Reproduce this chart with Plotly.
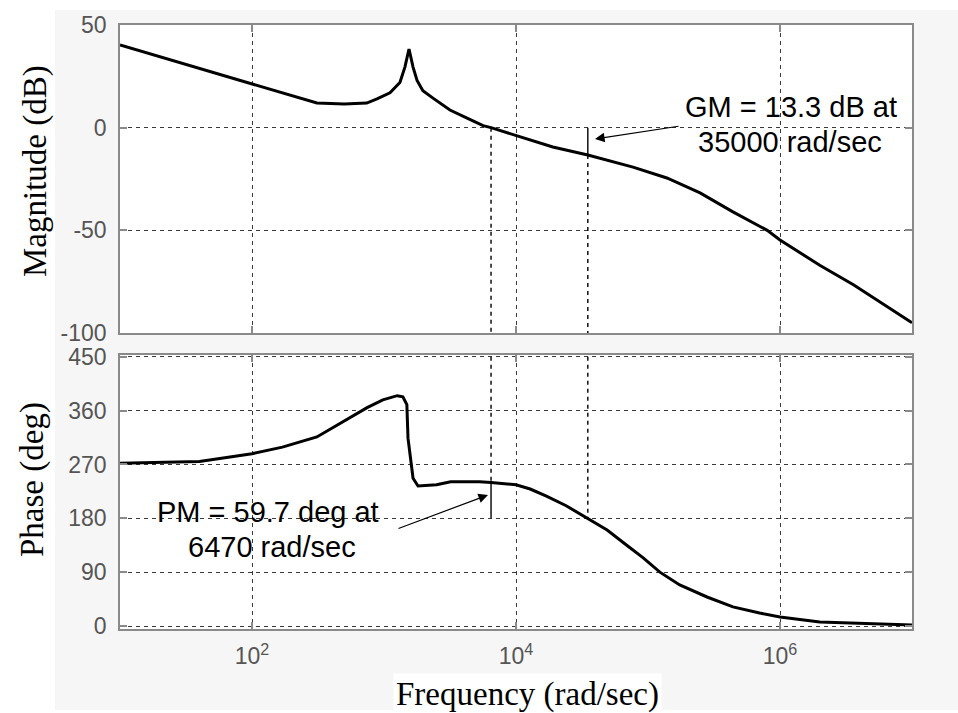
import plotly.graph_objects as go

# Open-loop frequency response: magnitude
mag_freq = [10, 20, 50, 100, 200, 233, 310, 500, 740, 885, 1110, 1320, 1440, 1547,
            1660, 1780, 1970, 2350, 3160, 4260, 5630, 6470, 10000, 19000, 35000,
            77000, 139000, 248000, 440000, 800000, 1e6, 2e6, 3.6e6, 1e7]
mag_db = [40.3, 34.6, 26.9, 21.3, 15.6, 14.4, 12.0, 11.5, 12.0, 14.0, 17.0, 22.0, 29.5, 38.3,
          29.5, 23.0, 18.0, 14.4, 8.6, 4.7, 1.0, 0.0, -3.9, -9.4, -13.3,
          -19.2, -24.5, -31.8, -41.0, -50.0, -54.7, -67.0, -76.5, -95.0]

# Open-loop frequency response: phase
phase_freq = [10, 20, 40, 100, 170, 310, 490, 745, 980, 1260, 1390, 1490, 1520, 1620,
              1660, 1810, 2500, 3200, 5300, 6470, 10000, 12800, 17000, 24000, 35000,
              49000, 69000, 92000, 123000, 174000, 280000, 440000, 700000, 1e6, 2e6,
              6.7e6, 1e7]
phase_deg = [272, 273, 275, 288, 299, 316, 341, 365, 378, 385, 383, 370, 314, 269,
             247, 234, 236, 241, 241, 239.7, 236, 229, 217, 201, 180.3,
             160.5, 135, 114, 90, 68.6, 48.5, 32, 21.7, 15, 6.7,
             3.3, 1.7]

# Stability margins
gm_db, gm_freq = 13.3, 35000
pm_deg, pm_freq = 59.7, 6470

# Axis ticks
freq_tickvals = [1e2, 1e4, 1e6]
freq_ticktext = ["10<sup>2</sup>", "10<sup>4</sup>", "10<sup>6</sup>"]
mag_ticks = [-100, -50, 0, 50]
mag_ticktext = ["-100", "-50", "0", "50"]
phase_ticks = [0, 90, 180, 270, 360, 450]

W, H = 958, 713
L, T, R, B = 120, 25, 912, 629


def fx(p):
    return (p - L) / (R - L)


def fy(p):
    return (B - p) / (B - T)


fig = go.Figure()

curve = dict(color="black", width=3)
mline = dict(color="black", width=1.4)
mdash = dict(color="black", width=1.4, dash="4px,4px")

# magnitude
fig.add_trace(go.Scatter(x=mag_freq, y=mag_db, mode="lines", line=curve,
                         xaxis="x", yaxis="y", showlegend=False))
fig.add_trace(go.Scatter(x=[pm_freq, pm_freq], y=[0, -100], mode="lines", line=mdash,
                         xaxis="x", yaxis="y", showlegend=False))
fig.add_trace(go.Scatter(x=[gm_freq, gm_freq], y=[0, -gm_db], mode="lines", line=mline,
                         xaxis="x", yaxis="y", showlegend=False))
fig.add_trace(go.Scatter(x=[gm_freq, gm_freq], y=[-gm_db, -100], mode="lines", line=mdash,
                         xaxis="x", yaxis="y", showlegend=False))

# phase
fig.add_trace(go.Scatter(x=phase_freq, y=phase_deg, mode="lines", line=curve,
                         xaxis="x2", yaxis="y2", showlegend=False))
fig.add_trace(go.Scatter(x=[pm_freq, pm_freq], y=[450, 180 + pm_deg], mode="lines", line=mdash,
                         xaxis="x2", yaxis="y2", showlegend=False))
fig.add_trace(go.Scatter(x=[pm_freq, pm_freq], y=[180 + pm_deg, 180], mode="lines", line=mline,
                         xaxis="x2", yaxis="y2", showlegend=False))
fig.add_trace(go.Scatter(x=[gm_freq, gm_freq], y=[450, 180], mode="lines", line=mdash,
                         xaxis="x2", yaxis="y2", showlegend=False))

tickfont = dict(family="Liberation Sans", size=23, color="#555555")
common = dict(
    showline=True, linecolor="#8a8a8a", linewidth=1.5, mirror="allticks",
    ticks="inside", ticklen=7, tickcolor="#8a8a8a", tickwidth=1.5,
    showgrid=True, gridcolor="#3a3a3a", gridwidth=1, griddash="4px,4px",
    zeroline=False, tickfont=tickfont,
)

fig.update_layout(
    width=W, height=H,
    margin=dict(l=L, r=W - R, t=T, b=H - B),
    paper_bgcolor="#f6f6f6", plot_bgcolor="white",
    xaxis=dict(type="log", range=[1, 7], domain=[0, 1], anchor="y",
               tickvals=freq_tickvals, ticktext=freq_ticktext, showticklabels=False, **common),
    yaxis=dict(range=[-100, 50], domain=[fy(333), 1], anchor="x",
               tickvals=mag_ticks, ticktext=mag_ticktext, ticklabelstandoff=7, **common),
    xaxis2=dict(type="log", range=[1, 7], domain=[0, 1], anchor="y2",
                tickvals=freq_tickvals, ticktext=freq_ticktext, ticklabelstandoff=6, **common),
    yaxis2=dict(range=[-5, 453], domain=[0, fy(355)], anchor="x2",
                tickvals=phase_ticks, ticklabelstandoff=7, **common),
)

# white margin strips around the figure window
white = dict(type="rect", xref="paper", yref="paper", fillcolor="white",
             line=dict(width=0), layer="below")
fig.add_shape(x0=fx(0), x1=fx(55), y0=fy(H), y1=fy(0), **white)
fig.add_shape(x0=fx(0), x1=fx(W), y0=fy(10), y1=fy(0), **white)
fig.add_shape(x0=fx(0), x1=fx(W), y0=fy(H), y1=fy(710), **white)

serif = dict(family="Liberation Serif", size=33, color="black")
sans = dict(family="Liberation Sans", size=29, color="black")


def text(s, cx, cy, font, **kw):
    fig.add_annotation(text=s, x=fx(cx), y=fy(cy), xref="paper", yref="paper",
                       xanchor="center", yanchor="middle", showarrow=False,
                       font=font, **kw)


text("Magnitude (dB)", 35, 171, serif, textangle=-90)
text("Phase (deg)", 32, 480, serif, textangle=-90)
text("Frequency (rad/sec)", 527, 694, serif, bgcolor="white", borderpad=2)

text(f"GM = {gm_db} dB at", 791, 107, sans)
text(f"{gm_freq} rad/sec", 790, 142, sans)
text(f"PM = {pm_deg} deg at", 268, 512, sans)
text(f"{pm_freq} rad/sec", 272, 547, sans)


def arrow(hx, hy, tx, ty, head):
    fig.add_annotation(text="", x=fx(hx), y=fy(hy), xref="paper", yref="paper",
                       ax=tx - hx, ay=ty - hy, showarrow=True, arrowhead=head,
                       arrowsize=1.6, arrowwidth=1.2, arrowcolor="black")


arrow(595, 139, 680, 126, 2)
arrow(488, 495, 397, 529, 2)

fig.write_html("out.html")
